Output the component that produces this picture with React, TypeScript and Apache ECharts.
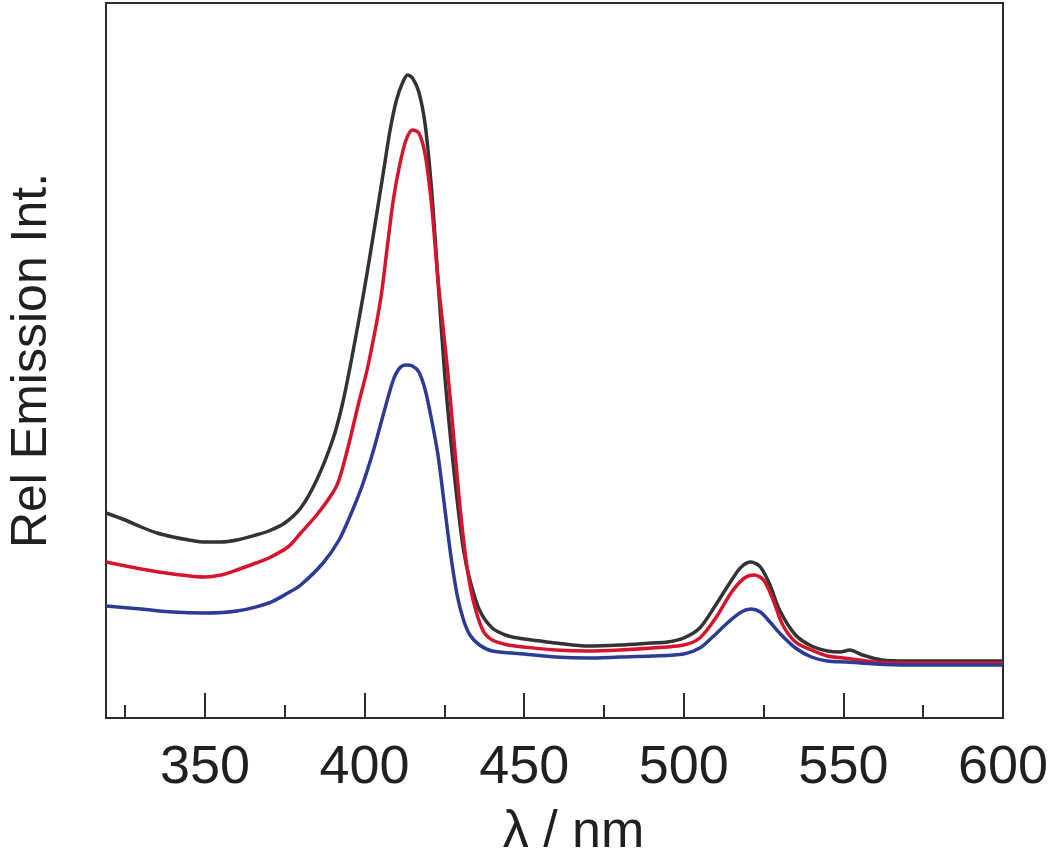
import React, { useEffect, useRef } from "react";
import * as echarts from "echarts";

// Wavelength (nm) and relative emission intensity (arbitrary units) for each trace
const blackNm = [319, 325, 330, 335, 340, 345, 350, 355, 360, 366, 370, 375, 380, 385, 390, 393, 396, 400, 403, 406, 408, 410, 412, 413.5, 415, 417, 419, 421, 423, 425, 427, 429, 431, 433, 436, 440, 445, 450, 455, 460, 470, 480, 490, 495, 500, 505, 510, 515, 518, 521, 524, 527, 530, 535, 540, 545, 549, 552, 556, 562, 570, 580, 600];
const blackInt = [205, 198, 191, 185, 181, 178, 176, 176, 178, 183, 187, 195, 210, 238, 278, 313, 360, 430, 488, 548, 588, 618, 636, 643, 640, 626, 593, 528, 438, 348, 278, 218, 168, 138, 108, 90, 82, 79, 77, 75, 72, 73, 75, 76, 80, 90, 113, 138, 151, 156, 151, 133, 108, 83, 72, 67, 66, 68, 63, 58, 57, 57, 57];

const redNm = [319, 330, 340, 350, 355, 360, 366, 370, 376, 380, 385, 390, 392, 395, 398, 401, 405, 407, 409, 411, 413, 415, 417, 419, 421, 423, 424, 426, 428, 430, 432, 434, 437, 440, 445, 450, 460, 470, 480, 490, 500, 505, 510, 515, 519, 522, 525, 528, 531, 535, 540, 545, 550, 555, 560, 570, 600];
const redInt = [156, 149, 144, 141, 143, 148, 155, 160, 171, 185, 203, 225, 238, 273, 313, 351, 418, 468, 518, 553, 578, 588, 585, 563, 513, 438, 408, 348, 278, 208, 153, 118, 88, 78, 73, 71, 68, 67, 68, 70, 73, 80, 100, 126, 140, 143, 138, 118, 93, 76, 68, 62, 60, 58, 56, 55, 55];

const blueNm = [319, 330, 340, 350, 360, 370, 376, 380, 387, 392, 396, 399, 401, 403, 406, 409, 411, 413, 415, 417, 419, 421, 423, 425, 427, 429, 431, 433, 436, 440, 450, 460, 470, 480, 490, 500, 505, 509, 514, 518, 521, 524, 527, 530, 535, 540, 545, 551, 560, 570, 600];
const blueInt = [112, 109, 106, 105, 107, 115, 125, 133, 155, 178, 206, 230, 249, 270, 305, 338, 350, 353, 352, 346, 328, 298, 263, 213, 163, 123, 98, 83, 73, 67, 64, 61, 60, 61, 62, 64, 70, 81, 96, 106, 109, 106, 96, 85, 70, 61, 57, 56, 54, 53, 53];

const majorTicks = [350, 400, 450, 500, 550, 600];
const minorTicks = [325, 375, 425, 475, 525, 575];

const xMin = 319;
const xMax = 600;
const yMin = 0;
const yMax = 715;

const pair = (xs: number[], ys: number[]) => xs.map((x, i) => [x, ys[i]]);

const FONT = "'Liberation Sans', Arial, Helvetica, sans-serif";
const TEXT = "#231f20";
const FRAME = "#2b2b2b";

export default function App() {
  const ref = useRef<HTMLDivElement>(null);

  useEffect(() => {
    if (!ref.current) return;
    const chart = echarts.init(ref.current, undefined, { renderer: "svg" });
    chart.setOption({
      animation: false,
      backgroundColor: "#ffffff",
      grid: {
        left: 106,
        right: 47,
        top: 3,
        bottom: 141,
        containLabel: false,
        outerBoundsMode: "none",
        show: true,
        borderColor: FRAME,
        borderWidth: 2,
        backgroundColor: "transparent",
      },
      xAxis: [
        {
          type: "value",
          position: "bottom",
          min: xMin,
          max: xMax,
          name: "λ / nm",
          nameLocation: "middle",
          nameGap: 87,
          nameTextStyle: {
            fontFamily: FONT,
            fontSize: 52,
            lineHeight: 48,
            color: TEXT,
            padding: [0, 0, 0, 38],
          },
          axisLine: { show: true, lineStyle: { color: FRAME, width: 2 } },
          axisTick: {
            show: true,
            inside: true,
            length: 25,
            customValues: majorTicks,
            lineStyle: { color: FRAME, width: 2 },
          },
          axisLabel: {
            show: true,
            customValues: majorTicks,
            margin: 19,
            fontFamily: FONT,
            fontSize: 54,
            color: TEXT,
          },
          splitLine: { show: false },
        },
        {
          type: "value",
          position: "bottom",
          min: xMin,
          max: xMax,
          axisLine: { show: false },
          axisTick: {
            show: true,
            inside: true,
            length: 13,
            customValues: minorTicks,
            lineStyle: { color: FRAME, width: 2 },
          },
          axisLabel: { show: false },
          splitLine: { show: false },
        },
      ],
      yAxis: {
        type: "value",
        min: yMin,
        max: yMax,
        name: "Rel Emission Int.",
        nameLocation: "middle",
        nameGap: 54,
        nameRotate: 90,
        nameTextStyle: {
          fontFamily: FONT,
          fontSize: 50,
          lineHeight: 46,
          color: TEXT,
        },
        axisLine: { show: false },
        axisTick: { show: false },
        axisLabel: { show: false },
        splitLine: { show: false },
      },
      series: [
        {
          name: "black",
          type: "line",
          data: pair(blackNm, blackInt),
          showSymbol: false,
          smooth: 0.3,
          lineStyle: { color: "#333333", width: 3.5 },
          itemStyle: { color: "#333333" },
          z: 3,
        },
        {
          name: "red",
          type: "line",
          data: pair(redNm, redInt),
          showSymbol: false,
          smooth: 0.3,
          lineStyle: { color: "#d7142e", width: 3.5 },
          itemStyle: { color: "#d7142e" },
          z: 4,
        },
        {
          name: "blue",
          type: "line",
          data: pair(blueNm, blueInt),
          showSymbol: false,
          smooth: 0.3,
          lineStyle: { color: "#2e3b95", width: 3.5 },
          itemStyle: { color: "#2e3b95" },
          z: 5,
        },
      ],
    });
    return () => chart.dispose();
  }, []);

  return (
    <div
      ref={ref}
      style={{ position: "fixed", left: 0, top: 0, width: 1050, height: 859, background: "#fff" }}
    />
  );
}
